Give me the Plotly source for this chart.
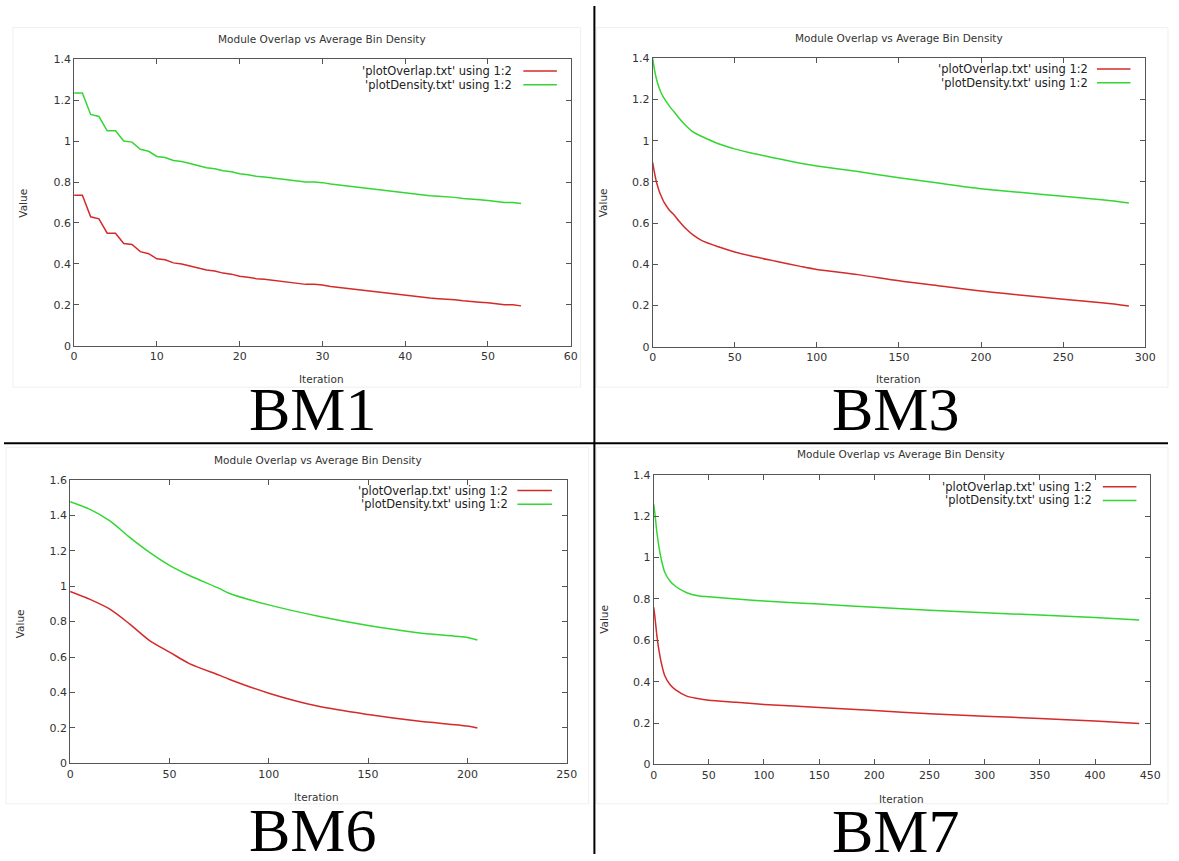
import plotly.graph_objects as go

# ---------------- data ----------------
bm1_iter = list(range(55))
bm1_overlap = [0.735, 0.735, 0.63, 0.62, 0.55, 0.55, 0.50, 0.495, 0.46, 0.45,
               0.425, 0.42, 0.405, 0.40, 0.39, 0.38, 0.37, 0.365, 0.355, 0.35,
               0.34, 0.335, 0.328, 0.325, 0.32, 0.315, 0.31, 0.307, 0.30, 0.30,
               0.297, 0.29, 0.285, 0.28, 0.275, 0.27, 0.267, 0.262, 0.257, 0.252,
               0.247, 0.242, 0.237, 0.233, 0.23, 0.228, 0.225, 0.22, 0.215, 0.213,
               0.21, 0.205, 0.20, 0.20, 0.195]
bm1_density = [1.235, 1.235, 1.13, 1.12, 1.05, 1.05, 1.00, 0.995, 0.96, 0.95,
               0.925, 0.92, 0.905, 0.90, 0.89, 0.88, 0.87, 0.865, 0.855, 0.85,
               0.84, 0.835, 0.828, 0.825, 0.82, 0.815, 0.81, 0.807, 0.80, 0.80,
               0.797, 0.79, 0.785, 0.78, 0.775, 0.77, 0.767, 0.762, 0.757, 0.752,
               0.747, 0.742, 0.737, 0.733, 0.73, 0.728, 0.725, 0.72, 0.715, 0.713,
               0.71, 0.705, 0.70, 0.70, 0.695]

bm3_iter = [0, 1, 2, 3, 4, 5, 7, 10, 13, 16, 20, 25, 30, 40, 50, 60, 75, 90, 100,
            125, 150, 175, 200, 225, 250, 275, 290]
bm3_overlap = [0.895, 0.85, 0.81, 0.78, 0.755, 0.735, 0.70, 0.665, 0.64, 0.61,
               0.575, 0.54, 0.515, 0.485, 0.46, 0.44, 0.415, 0.39, 0.375,
               0.35, 0.32, 0.295, 0.27, 0.25, 0.23, 0.212, 0.198]
bm3_density = [1.40, 1.35, 1.31, 1.28, 1.255, 1.235, 1.205, 1.17, 1.14, 1.11,
               1.075, 1.04, 1.02, 0.985, 0.96, 0.94, 0.915, 0.89, 0.877,
               0.85, 0.82, 0.793, 0.767, 0.748, 0.73, 0.712, 0.698]

bm6_iter = [0, 10, 20, 30, 40, 50, 60, 75, 80, 100, 125, 150, 175, 200, 205]
bm6_overlap = [0.97, 0.925, 0.87, 0.786, 0.693, 0.628, 0.563, 0.498, 0.475,
               0.396, 0.322, 0.276, 0.239, 0.211, 0.20]
bm6_density = [1.476, 1.433, 1.368, 1.275, 1.19, 1.117, 1.06, 0.987, 0.96,
               0.894, 0.83, 0.778, 0.737, 0.71, 0.696]

bm7_iter = [0, 1, 2, 3, 5, 7, 10, 15, 20, 30, 40, 50, 75, 100, 150, 200, 250,
            300, 350, 400, 440]
bm7_overlap = [0.76, 0.72, 0.67, 0.62, 0.545, 0.49, 0.43, 0.385, 0.36, 0.33,
               0.318, 0.31, 0.30, 0.29, 0.275, 0.26, 0.245, 0.233, 0.222, 0.21,
               0.198]
bm7_density = [1.26, 1.22, 1.17, 1.12, 1.045, 0.99, 0.93, 0.885, 0.86, 0.83,
               0.815, 0.81, 0.80, 0.79, 0.775, 0.76, 0.745, 0.733, 0.722, 0.71,
               0.698]

panel_labels = ["BM1", "BM3", "BM6", "BM7"]
chart_title = "Module Overlap vs Average Bin Density"
legend_names = ["'plotOverlap.txt' using 1:2", "'plotDensity.txt' using 1:2"]
x_title = "Iteration"
y_title = "Value"
x_ranges = [[0, 60], [0, 300], [0, 250], [0, 450]]
x_dticks = [10, 50, 50, 50]
y_ranges = [[0, 1.4], [0, 1.4], [0, 1.6], [0, 1.4]]

series = [
    (bm1_iter, bm1_overlap, bm1_density),
    (bm3_iter, bm3_overlap, bm3_density),
    (bm6_iter, bm6_overlap, bm6_density),
    (bm7_iter, bm7_overlap, bm7_density),
]
line_shapes = ["linear", "spline", "spline", "spline"]

# ---------------- layout geometry (pixels) ----------------
W, H = 1179, 861
# plot-area boxes: left, right, top, bottom
boxes = [(71, 574, 54, 345), (657, 1156, 53, 346), (67, 570, 481, 769), (658, 1161, 476, 770)]
title_pos = [(322, 33), (907, 32), (318, 461), (909, 455)]
xt_pos = [(322, 379), (906, 379), (317, 803), (909, 805)]
yt_pos = [(19, 200), (607, 200), (16, 627), (607, 623)]
bm_pos = [(312, 409), (903, 409), (312, 837), (903, 838)]
leg_pos = [(517, 526, 560, 66, 80), (1100, 1107, 1141, 64, 78),
           (513, 520, 555, 492, 506), (1104, 1113, 1147, 488, 502)]
frames = [(9, 584, 22, 387), (600, 1179, 22, 387), (2, 592, 448, 810), (600, 1179, 448, 810)]

RED = "#d42a2a"
GREEN = "#33d633"
AXC = "#555555"
TXT = "#333333"
FONT = "DejaVu Sans"


def px(x):
    return x / W


def py(y):
    return 1 - y / H


fig = go.Figure()
layout = dict(width=W, height=H, margin=dict(l=0, r=0, t=0, b=0),
              paper_bgcolor="white", plot_bgcolor="white", showlegend=False)
annotations = []
shapes = []

for i, (xs, ov, de) in enumerate(series):
    n = "" if i == 0 else str(i + 1)
    l, r, t, b = boxes[i]
    ax = dict(domain=[px(l), px(r)], range=x_ranges[i], dtick=x_dticks[i],
              showgrid=False, zeroline=False, showline=True, mirror="allticks",
              linecolor=AXC, linewidth=1, ticks="inside", ticklen=5, tickcolor=AXC,
              tickfont=dict(family=FONT, size=11, color=TXT),
              anchor="y" + n, fixedrange=True)
    ay = dict(domain=[py(b), py(t)], range=y_ranges[i], dtick=0.2,
              showgrid=False, zeroline=False, showline=True, mirror="allticks",
              linecolor=AXC, linewidth=1, ticks="inside", ticklen=5, tickcolor=AXC,
              tickfont=dict(family=FONT, size=11, color=TXT),
              anchor="x" + n, fixedrange=True)
    layout["xaxis" + n] = ax
    layout["yaxis" + n] = ay
    ls = dict(shape=line_shapes[i], width=1.5)
    if line_shapes[i] == "spline":
        ls["smoothing"] = 0.8
    fig.add_trace(go.Scatter(x=xs, y=ov, mode="lines", xaxis="x" + n, yaxis="y" + n,
                             line=dict(color=RED, **ls), name=legend_names[0]))
    fig.add_trace(go.Scatter(x=xs, y=de, mode="lines", xaxis="x" + n, yaxis="y" + n,
                             line=dict(color=GREEN, **ls), name=legend_names[1]))

    # faint screenshot frame
    fl, fr, ft, fb = frames[i]
    shapes.append(dict(type="rect", xref="paper", yref="paper", x0=px(fl), x1=px(fr),
                       y0=py(fb), y1=py(ft), line=dict(color="#efefef", width=1),
                       layer="below"))

    tx, ty = title_pos[i]
    annotations.append(dict(text=chart_title, x=px(tx), y=py(ty), xref="paper", yref="paper",
                            showarrow=False, xanchor="center", yanchor="middle",
                            font=dict(family=FONT, size=10.5, color=TXT)))
    xx, xy = xt_pos[i]
    annotations.append(dict(text=x_title, x=px(xx), y=py(xy), xref="paper", yref="paper",
                            showarrow=False, xanchor="center", yanchor="middle",
                            font=dict(family=FONT, size=10.5, color=TXT)))
    yx, yy = yt_pos[i]
    annotations.append(dict(text=y_title, x=px(yx), y=py(yy), xref="paper", yref="paper",
                            showarrow=False, xanchor="center", yanchor="middle", textangle=-90,
                            font=dict(family=FONT, size=10.5, color=TXT)))
    bx, by = bm_pos[i]
    annotations.append(dict(text=panel_labels[i], x=px(bx), y=py(by), xref="paper", yref="paper",
                            showarrow=False, xanchor="center", yanchor="middle",
                            font=dict(family="Liberation Serif", size=62, color="black")))
    # legend (gnuplot style: text on the left, sample line on the right)
    tr, l0, l1, r1, r2 = leg_pos[i]
    for name, col, yrow in ((legend_names[0], RED, r1), (legend_names[1], GREEN, r2)):
        annotations.append(dict(text=name, x=px(tr), y=py(yrow), xref="paper", yref="paper",
                                showarrow=False, xanchor="right", yanchor="middle",
                                font=dict(family=FONT, size=11.5, color="#222222")))
        shapes.append(dict(type="line", xref="paper", yref="paper", x0=px(l0), x1=px(l1),
                           y0=py(yrow), y1=py(yrow), line=dict(color=col, width=1.5)))

# black divider lines between the four screenshots
shapes.append(dict(type="line", xref="paper", yref="paper", x0=px(598), x1=px(598),
                   y0=0, y1=1, line=dict(color="black", width=2)))
shapes.append(dict(type="line", xref="paper", yref="paper", x0=0, x1=1,
                   y0=py(444), y1=py(444), line=dict(color="black", width=2)))

layout["annotations"] = annotations
layout["shapes"] = shapes
fig.update_layout(**layout)
fig.write_html("out.html", config={"displayModeBar": False, "staticPlot": True},
               post_script="document.body.style.margin='0px';document.body.style.overflow='hidden';")
